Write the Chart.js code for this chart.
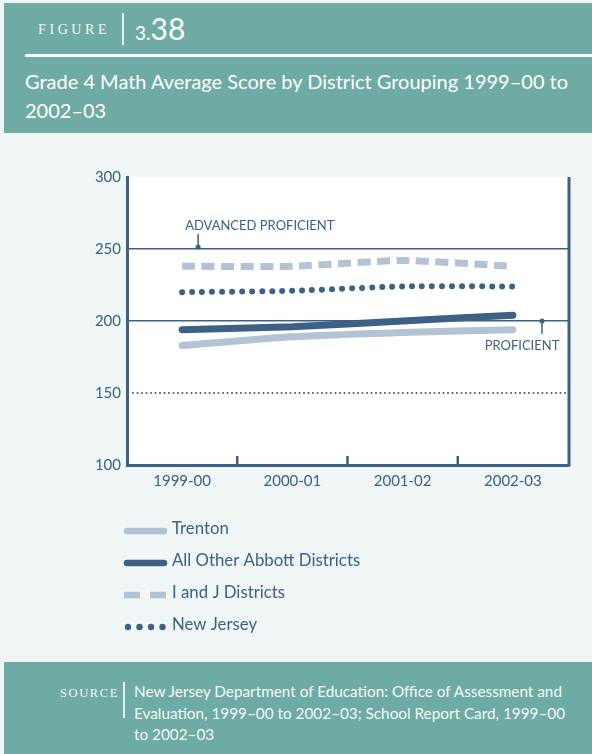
<!DOCTYPE html>
<html>
<head>
<meta charset="utf-8">
<script src="https://cdn.jsdelivr.net/npm/chart.js@4.4.1/dist/chart.umd.min.js"></script>
<style>
  body { margin: 0; width: 592px; height: 754px; background: #f0f5f5; position: relative; overflow: hidden; font-family: Lato, sans-serif; }
  .band { position: absolute; left: 4px; width: 588px; background: #6eaba5; color: #fff; }
  #head { top: 3px; height: 130px; }
  #foot { top: 662px; height: 92px; }
  .caps { position: absolute; font-family: "Liberation Serif", serif; color: #f4f8f8; }
  .bar { position: absolute; width: 1.5px; background: #e6f0ef; }
  #num { position: absolute; left: 131px; top: 5px; font-size: 30px; line-height: 40px; }
  #num small { font-size: 19px; }
  #rule { position: absolute; left: 21px; right: 0; top: 51px; height: 3px; background: #fff; }
  #title { position: absolute; left: 21px; top: 64px; width: 560px; font-size: 20px; line-height: 29px; }
  #src { position: absolute; left: 130px; top: 19px; width: 440px; font-size: 15.3px; line-height: 21.5px; color: #f4f8f8; }
  #wrap { position: absolute; left: 0; top: 133px; width: 592px; height: 529px; }
</style>
</head>
<body>
<div id="head" class="band">
  <div class="caps" style="left:34px; top:19px; font-size:14px; letter-spacing:3.6px;">FIGURE</div>
  <div class="bar" style="left:118px; top:10px; height:32px;"></div>
  <div id="num"><small>3.</small>38</div>
  <div id="rule"></div>
  <div id="title">Grade 4 Math Average Score by District Grouping 1999–00 to 2002–03</div>
</div>
<div id="wrap"><canvas id="chart" width="592" height="529"></canvas></div>
<div id="foot" class="band">
  <div class="caps" style="left:56px; top:24px; font-size:12.5px; letter-spacing:1.6px;">SOURCE</div>
  <div class="bar" style="left:119px; top:20px; height:36px;"></div>
  <div id="src">New Jersey Department of Education: Office of Assessment and Evaluation, 1999–00 to 2002–03; School Report Card, 1999–00 to 2002–03</div>
</div>
<script>
const years = ['1999-00', '2000-01', '2001-02', '2002-03'];
const trenton = [183, 189, 192, 194];
const abbott = [194, 196, 200, 204];
const iAndJ = [238, 238, 242, 238];
const newJersey = [220, 221, 224, 224];
const legendNames = ['Trenton', 'All Other Abbott Districts', 'I and J Districts', 'New Jersey'];

const dark = '#3d6185';
const light = '#b3c3d3';
const font = 'Lato, sans-serif';

// white plot area, reference lines, tick marks, notes and legend
const extras = {
    id: 'extras',
    beforeDraw(chart) {
        const {ctx, chartArea: a} = chart;
        ctx.save();
        ctx.fillStyle = '#fff';
        ctx.fillRect(a.left, a.top, a.right - a.left, a.bottom - a.top);
        ctx.restore();
    },
    beforeDatasetsDraw(chart) {
        const {ctx, chartArea: a, scales: {x, y}} = chart;
        ctx.save();
        // dotted 150 line
        const y150 = y.getPixelForValue(150);
        ctx.strokeStyle = dark;
        ctx.lineWidth = 2;
        ctx.lineCap = 'round';
        ctx.setLineDash([0, 4.5]);
        ctx.beginPath();
        ctx.moveTo(a.left + 6, y150);
        ctx.lineTo(a.right, y150);
        ctx.stroke();
        ctx.setLineDash([]);
        ctx.lineCap = 'butt';
        // upward ticks between categories
        ctx.lineWidth = 2.5;
        for (let i = 0; i < years.length - 1; i++) {
            const px = (x.getPixelForValue(i) + x.getPixelForValue(i + 1)) / 2;
            ctx.beginPath();
            ctx.moveTo(px, a.bottom);
            ctx.lineTo(px, a.bottom - 9);
            ctx.stroke();
        }
        // right frame
        ctx.lineWidth = 3;
        ctx.beginPath();
        ctx.moveTo(a.right + 1, a.top);
        ctx.lineTo(a.right + 1, a.bottom + 1.5);
        ctx.stroke();

        // notes
        ctx.fillStyle = dark;
        ctx.lineWidth = 1.5;
        ctx.font = '13px ' + font;
        ctx.textBaseline = 'alphabetic';
        const y250 = y.getPixelForValue(250);
        const ax = x.getPixelForValue(0) + 16;
        ctx.beginPath();
        ctx.moveTo(ax, y250 - 15);
        ctx.lineTo(ax, y250 - 2);
        ctx.stroke();
        ctx.beginPath();
        ctx.arc(ax, y250 - 2, 2.5, 0, Math.PI * 2);
        ctx.fill();
        ctx.textAlign = 'left';
        ctx.fillText('ADVANCED PROFICIENT', ax - 13, y250 - 19);

        const y200 = y.getPixelForValue(200);
        const px = a.right - 26;
        ctx.beginPath();
        ctx.moveTo(px, y200);
        ctx.lineTo(px, y200 + 13);
        ctx.stroke();
        ctx.beginPath();
        ctx.arc(px, y200, 2.5, 0, Math.PI * 2);
        ctx.fill();
        ctx.textAlign = 'center';
        ctx.fillText('PROFICIENT', px - 20, y200 + 29);
        ctx.restore();
    },
    afterDraw(chart) {
        const {ctx, chartArea: a} = chart;
        ctx.save();
        const left = a.left - 3;
        let top = a.bottom + 66;
        chart.data.datasets.forEach((ds, i) => {
            const ly = top + i * 32;
            ctx.strokeStyle = ds.borderColor;
            ctx.fillStyle = ds.borderColor;
            ctx.lineWidth = 6.5;
            if (i < 2) {
                ctx.lineCap = 'round';
                ctx.beginPath();
                ctx.moveTo(left + 3, ly);
                ctx.lineTo(left + 40, ly);
                ctx.stroke();
            } else if (i === 2) {
                ctx.lineCap = 'butt';
                ctx.beginPath();
                ctx.moveTo(left, ly); ctx.lineTo(left + 16, ly);
                ctx.moveTo(left + 26, ly); ctx.lineTo(left + 42, ly);
                ctx.stroke();
            } else {
                for (let k = 0; k < 4; k++) {
                    ctx.beginPath();
                    ctx.arc(left + 4 + k * 11.5, ly, 3.2, 0, Math.PI * 2);
                    ctx.fill();
                }
            }
            ctx.fillStyle = dark;
            ctx.font = '16.8px ' + font;
            ctx.textAlign = 'left';
            ctx.textBaseline = 'alphabetic';
            ctx.fillText(legendNames[i], left + 48, ly + 2.5);
        });
        ctx.restore();
    }
};

new Chart(document.getElementById('chart'), {
    type: 'line',
    data: {
        labels: years,
        datasets: [{
            data: trenton,
            borderColor: light,
            borderWidth: 7,
            borderCapStyle: 'round',
            tension: 0.2
        }, {
            data: abbott,
            borderColor: dark,
            borderWidth: 7,
            borderCapStyle: 'round',
            tension: 0.2
        }, {
            data: iAndJ,
            borderColor: light,
            borderWidth: 7,
            borderDash: [13, 6.5],
            tension: 0.2
        }, {
            data: newJersey,
            borderColor: dark,
            borderWidth: 6,
            borderDash: [0, 10],
            borderCapStyle: 'round',
            tension: 0.2
        }]
    },
    options: {
        responsive: false,
        animation: false,
        layout: {padding: {left: 0, right: 24, top: 44, bottom: 0}},
        elements: {point: {radius: 0}},
        plugins: {legend: {display: false}, tooltip: {enabled: false}},
        scales: {
            x: {
                offset: true,
                grid: {display: false, drawTicks: false},
                border: {color: dark, width: 3},
                ticks: {color: dark, font: {family: font, size: 15}, padding: 7},
                afterFit(s) { s.height = 197; }
            },
            y: {
                min: 100,
                max: 300,
                ticks: {stepSize: 50, color: dark, font: {family: font, size: 15}, padding: 6},
                grid: {
                    drawTicks: false,
                    lineWidth: 1.5,
                    color: c => (c.tick && (c.tick.value === 250 || c.tick.value === 200)) ? dark : 'rgba(0,0,0,0)'
                },
                border: {color: dark, width: 3},
                afterFit(s) { s.width = 127; }
            }
        }
    },
    plugins: [extras]
});
</script>
</body>
</html>
